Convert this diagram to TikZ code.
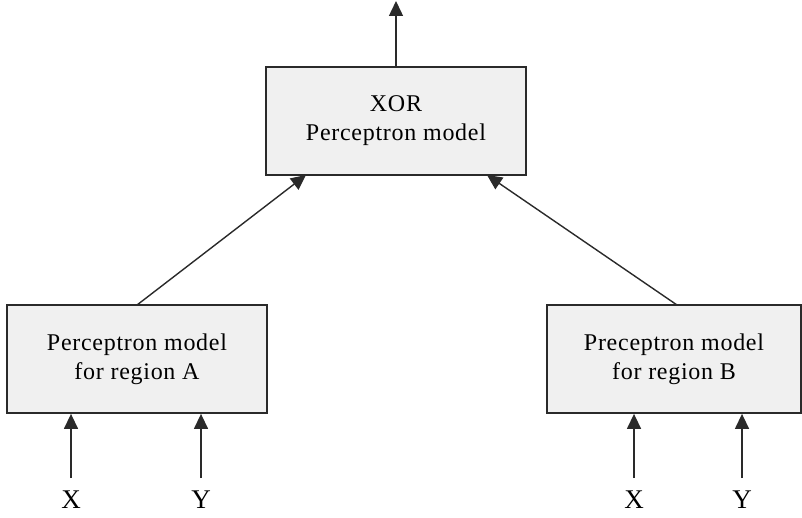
\documentclass[tikz,border=0pt]{standalone}
\usepackage{fontspec}
\setmainfont{Liberation Serif}
\usetikzlibrary{arrows.meta}
\definecolor{boxfill}{HTML}{F0F0F0}
\definecolor{ink}{HTML}{2A2A2A}
\begin{document}
\begin{tikzpicture}[x=1pt,y=-1pt,
  model/.style={draw=ink, line width=1.8pt, fill=boxfill, align=center,
    font=\fontsize{24}{29}\selectfont\addfontfeatures{LetterSpace=3}, inner sep=0pt},
  flow/.style={draw=ink, line width=1.4pt, -{Triangle[length=15pt,width=14pt]}},
  inlabel/.style={font=\fontsize{27}{30}\selectfont, inner sep=0pt}]
\useasboundingbox (0,0) rectangle (802,518);
% boxes
\node[model, minimum width=260pt, minimum height=108pt] (xor) at (396,121) {XOR\\Perceptron model};
\node[model, minimum width=260pt, minimum height=108pt] (ra) at (137,359) {Perceptron model\\for region A};
\node[model, minimum width=254pt, minimum height=108pt] (rb) at (674,359) {Preceptron model\\for region B};
% output
\coordinate (out) at (396,1);
\draw[flow] (xor.north) -- (out);
% region models to XOR
\coordinate (aTop) at (137,305);
\coordinate (bTop) at (677,305);
\coordinate (xorInA) at (306,175);
\coordinate (xorInB) at (487,175);
\draw[flow] (aTop) -- (xorInA);
\draw[flow] (bTop) -- (xorInB);
% inputs
\node[inlabel] (ax) at (71,500) {X};
\node[inlabel] (ay) at (201,500) {Y};
\node[inlabel] (bx) at (634,500) {X};
\node[inlabel] (by) at (742,500) {Y};
\draw[flow] (71,478) -- (ra.south -| ax);
\draw[flow] (201,478) -- (ra.south -| ay);
\draw[flow] (634,478) -- (rb.south -| bx);
\draw[flow] (742,478) -- (rb.south -| by);
\end{tikzpicture}
\end{document}
